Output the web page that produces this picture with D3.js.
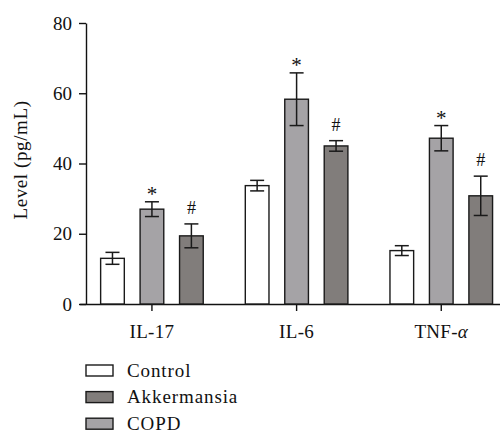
<!DOCTYPE html>
<html>
<head>
<meta charset="utf-8">
<script src="https://cdn.jsdelivr.net/npm/d3@7"></script>
<style>
  body { margin: 0; background: #fff; }
  svg text { font-family: "Liberation Serif", "DejaVu Serif", serif; fill: #111; }
</style>
</head>
<body>
<div id="chart"></div>
<script>
// values
const categories = ['IL-17', 'IL-6', 'TNF-α'];
const barOrder = ['Control', 'COPD', 'Akkermansia'];
const legendOrder = ['Control', 'Akkermansia', 'COPD'];
const controlValues = [13.0, 33.7, 15.2];
const controlErrors = [1.7, 1.5, 1.4];
const copdValues = [27.0, 58.3, 47.2];
const copdErrors = [2.1, 7.5, 3.6];
const akkValues = [19.4, 45.0, 30.8];
const akkErrors = [3.4, 1.5, 5.6];
const yTicks = [0, 20, 40, 60, 80];
const marks = { Control: '', COPD: '*', Akkermansia: '#' };

const seriesValues = { Control: controlValues, COPD: copdValues, Akkermansia: akkValues };
const seriesErrors = { Control: controlErrors, COPD: copdErrors, Akkermansia: akkErrors };
const color = d3.scaleOrdinal()
  .domain(['Control', 'COPD', 'Akkermansia'])
  .range(['#ffffff', '#a5a3a6', '#817d7b']);

const width = 500, height = 437;
const svg = d3.select('#chart').append('svg')
  .attr('width', width)
  .attr('height', height);

const y = d3.scaleLinear().domain([0, 80]).range([304, 23]);
const x = d3.scaleBand().domain(categories).range([79.6, 513.6]).padding(0);
const xInner = d3.scaleBand().domain(barOrder).range([-51.3, 51.3]).paddingInner(0.4);

// y axis
const yAxis = svg.append('g')
  .attr('transform', 'translate(86,0)')
  .call(d3.axisLeft(y).tickValues(yTicks).tickSize(7).tickSizeOuter(0).tickPadding(7));
yAxis.selectAll('text').style('font-size', '19px');

// x axis
const xAxis = svg.append('g')
  .attr('transform', 'translate(0,304)')
  .call(d3.axisBottom(x).tickSize(7).tickSizeOuter(0).tickPadding(14));
xAxis.selectAll('text').style('font-size', '19px').style('letter-spacing', '0.3px')
  .each(function (d) {
    if (d === 'TNF-α') {
      const t = d3.select(this).text('');
      t.append('tspan').text('TNF-');
      t.append('tspan').style('font-style', 'italic').text('α');
    }
  });
svg.selectAll('.domain, .tick line').attr('stroke', '#111').attr('stroke-width', 1.4);

// y label
svg.append('text')
  .attr('transform', 'translate(27,160) rotate(-90)')
  .attr('text-anchor', 'middle')
  .style('font-size', '19px')
  .style('letter-spacing', '0.6px')
  .text('Level (pg/mL)');

// bars
const rows = [];
categories.forEach((c, i) => {
  barOrder.forEach(s => {
    rows.push({ cat: c, series: s, value: seriesValues[s][i], err: seriesErrors[s][i] });
  });
});

const g = svg.append('g');
const bw = xInner.bandwidth();
const bx = d => x(d.cat) + x.bandwidth() / 2 + xInner(d.series);

g.selectAll('rect.bar')
  .data(rows)
  .enter()
  .append('rect')
  .attr('class', 'bar')
  .attr('x', d => bx(d))
  .attr('y', d => y(d.value))
  .attr('width', bw)
  .attr('height', d => y(0) - y(d.value))
  .attr('fill', d => color(d.series))
  .attr('stroke', '#1a1a1a')
  .attr('stroke-width', 1.4);

// error bars
const eb = g.selectAll('g.err')
  .data(rows)
  .enter()
  .append('g')
  .attr('class', 'err')
  .attr('stroke', '#1a1a1a')
  .attr('stroke-width', 1.5);
eb.append('line')
  .attr('x1', d => bx(d) + bw / 2).attr('x2', d => bx(d) + bw / 2)
  .attr('y1', d => y(d.value + d.err)).attr('y2', d => y(d.value - d.err));
eb.append('line')
  .attr('x1', d => bx(d) + bw / 2 - 7).attr('x2', d => bx(d) + bw / 2 + 7)
  .attr('y1', d => y(d.value + d.err)).attr('y2', d => y(d.value + d.err));
eb.append('line')
  .attr('x1', d => bx(d) + bw / 2 - 7).attr('x2', d => bx(d) + bw / 2 + 7)
  .attr('y1', d => y(d.value - d.err)).attr('y2', d => y(d.value - d.err));

// significance marks
g.selectAll('text.mark')
  .data(rows.filter(d => marks[d.series]))
  .enter()
  .append('text')
  .attr('class', 'mark')
  .attr('x', d => bx(d) + bw / 2)
  .attr('y', d => y(d.value + d.err) - (d.series === 'COPD' ? 1 : 10))
  .attr('text-anchor', 'middle')
  .style('font-size', d => d.series === 'COPD' ? '21px' : '18px')
  .text(d => marks[d.series]);

// legend
const legend = svg.selectAll('.legend')
  .data(legendOrder)
  .enter()
  .append('g')
  .attr('class', 'legend')
  .attr('transform', (d, i) => `translate(86,${365 + i * 26.6})`);
legend.append('rect')
  .attr('width', 27)
  .attr('height', 11)
  .attr('fill', d => color(d))
  .attr('stroke', '#1a1a1a')
  .attr('stroke-width', 1.4);
legend.append('text')
  .attr('x', 41)
  .attr('y', 11.5)
  .style('font-size', '19px')
  .style('letter-spacing', '0.9px')
  .text(d => d);
</script>
</body>
</html>
